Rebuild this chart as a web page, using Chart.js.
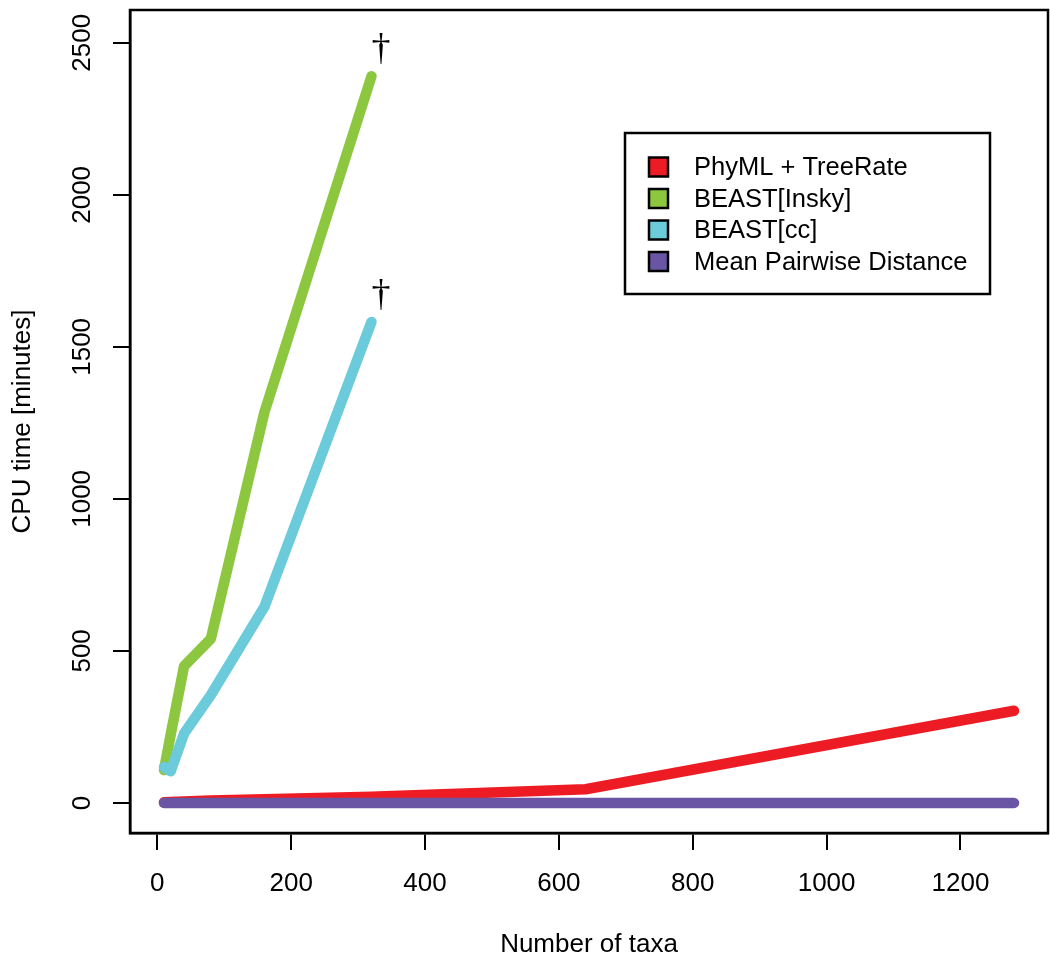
<!DOCTYPE html>
<html lang="en">
<head>
  <meta charset="UTF-8">
  <title>CPU time vs number of taxa</title>
  <script src="https://cdn.jsdelivr.net/npm/chart.js"></script>
  <style>
    body { margin: 0; background: white; }
    .chart-container { width: 1050px; height: 965px; }
    canvas { display: block; }
  </style>
</head>
<body>
  <div class="chart-container">
    <canvas id="cpuChart"></canvas>
  </div>
  <script>
    // Number of taxa (x) and CPU time in minutes for each method
    const taxa = [10, 20, 40, 80, 160, 320, 640, 1280];
    const phymlTreeRate = [2, 3, 5, 8, 12, 20, 45, 303];
    const beastSky = [108, 225, 450, 540, 1285, 2390];   // stops at 320 taxa
    const beastCC = [118, 104, 228, 355, 645, 1582];     // stops at 320 taxa
    const meanPairwise = [0, 0, 0, 0, 0, 0, 0, 0];

    const seriesLabels = ['PhyML + TreeRate', 'BEAST[Insky]', 'BEAST[cc]', 'Mean Pairwise Distance'];
    const seriesColors = ['#ED1C24', '#8DC63F', '#6BCBDA', '#6A55A4'];
    const daggerSeries = ['BEAST[Insky]', 'BEAST[cc]']; // runs that did not finish

    const xTicks = [0, 200, 400, 600, 800, 1000, 1200];
    const yTicks = [0, 500, 1000, 1500, 2000, 2500];

    const FONT = "'Liberation Sans', Arial, Helvetica, sans-serif";
    const FSIZE = 26;

    const toPoints = vals => vals.map((v, i) => ({ x: taxa[i], y: v }));
    const allSeries = [phymlTreeRate, beastSky, beastCC, meanPairwise];

    const datasets = allSeries.map((vals, i) => ({
      label: seriesLabels[i],
      data: toPoints(vals),
      borderColor: seriesColors[i],
      backgroundColor: seriesColors[i],
      borderWidth: 10.5,
      borderCapStyle: 'round',
      borderJoinStyle: 'round',
      pointRadius: 0,
      tension: 0,
      order: allSeries.length - i // later series drawn on top, like R
    }));

    // box round the plot, rotated y labels, daggers and the legend
    const extras = {
      id: 'extras',
      afterDatasetsDraw(chart) {
        const ctx = chart.ctx;
        const area = chart.chartArea;
        ctx.save();

        // daggers above the unfinished runs
        ctx.fillStyle = 'black';
        ctx.font = "38px 'Liberation Serif', 'DejaVu Serif', serif";
        ctx.textAlign = 'center';
        ctx.textBaseline = 'middle';
        chart.data.datasets.forEach((ds, i) => {
          if (!daggerSeries.includes(ds.label)) return;
          const pts = chart.getDatasetMeta(i).data;
          const last = pts[pts.length - 1];
          ctx.fillText('\u2020', last.x + 9.5, last.y - 26);
        });

        // y tick labels, turned like R's las=0
        const ys = chart.scales.y;
        ctx.font = FSIZE + 'px ' + FONT;
        ys.ticks.forEach(t => {
          const py = ys.getPixelForValue(t.value);
          ctx.save();
          ctx.translate(83, py);
          ctx.rotate(-Math.PI / 2);
          ctx.fillText(String(t.value), 0, 0);
          ctx.restore();
        });

        // plot box
        ctx.strokeStyle = 'black';
        ctx.lineWidth = 2.5;
        ctx.strokeRect(area.left, area.top, area.right - area.left, area.bottom - area.top);

        // legend
        const lx = 625, ly = 133, lw = 365, lh = 161;
        ctx.fillStyle = 'white';
        ctx.fillRect(lx, ly, lw, lh);
        ctx.strokeRect(lx, ly, lw, lh);
        ctx.textAlign = 'left';
        ctx.textBaseline = 'middle';
        ctx.font = '25.5px ' + FONT;
        seriesLabels.forEach((lab, i) => {
          const cy = ly + 34 + i * 31.5;
          ctx.fillStyle = seriesColors[i];
          ctx.fillRect(649, cy - 9.5, 19, 19);
          ctx.strokeStyle = 'black';
          ctx.lineWidth = 2.5;
          ctx.strokeRect(649, cy - 9.5, 19, 19);
          ctx.fillStyle = 'black';
          ctx.fillText(lab, 694, cy + 1);
        });

        ctx.restore();
      }
    };

    const config = {
      type: 'line',
      data: { datasets: datasets },
      options: {
        responsive: true,
        maintainAspectRatio: false,
        animation: false,
        layout: { padding: { top: 10, right: 2, left: 0, bottom: 0 } },
        plugins: {
          legend: { display: false },
          tooltip: { enabled: false }
        },
        scales: {
          x: {
            type: 'linear',
            min: -40.8,
            max: 1330.8,
            afterFit: s => { s.height = 132; },
            afterBuildTicks: s => { s.ticks = xTicks.map(v => ({ value: v })); },
            ticks: {
              color: 'black',
              padding: 18,
              maxRotation: 0,
              callback: v => String(v),
              font: { family: FONT, size: FSIZE }
            },
            grid: {
              drawOnChartArea: false,
              drawTicks: true,
              tickLength: 17,
              color: 'black',
              lineWidth: 2
            },
            border: { color: 'black', width: 2.5 },
            title: {
              display: true,
              text: 'Number of taxa',
              color: 'black',
              padding: { top: 0, bottom: 5 },
              font: { family: FONT, size: FSIZE }
            }
          },
          y: {
            type: 'linear',
            min: -99,
            max: 2608,
            afterFit: s => { s.width = 130; },
            afterBuildTicks: s => { s.ticks = yTicks.map(v => ({ value: v })); },
            ticks: { display: false },
            grid: {
              drawOnChartArea: false,
              drawTicks: true,
              tickLength: 17,
              color: 'black',
              lineWidth: 2
            },
            border: { color: 'black', width: 2.5 },
            title: {
              display: true,
              text: 'CPU time [minutes]',
              color: 'black',
              padding: { top: 7, bottom: 0 },
              font: { family: FONT, size: FSIZE }
            }
          }
        }
      },
      plugins: [extras]
    };

    new Chart(document.getElementById('cpuChart'), config);
  </script>
</body>
</html>
